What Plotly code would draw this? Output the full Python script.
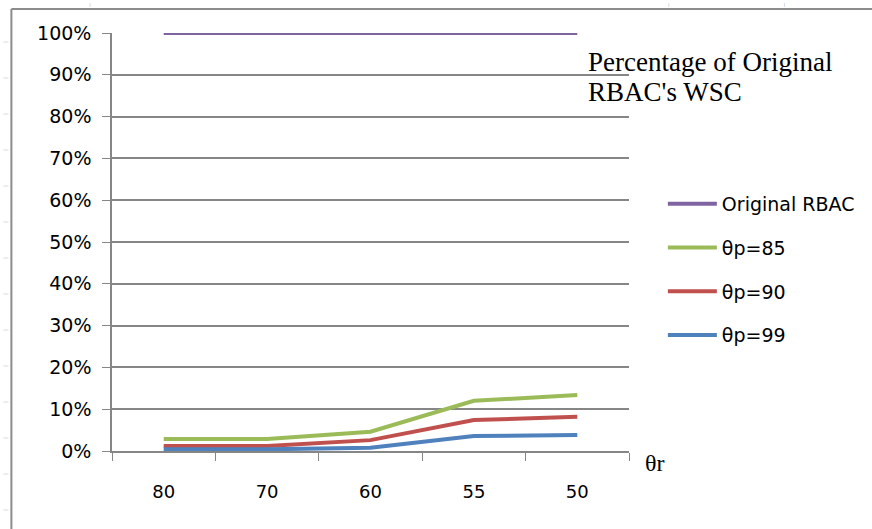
import plotly.graph_objects as go

categories = ["80", "70", "60", "55", "50"]
original_rbac = [1.0, 1.0, 1.0, 1.0, 1.0]
theta_p85 = [0.029, 0.029, 0.046, 0.120, 0.134]
theta_p90 = [0.012, 0.012, 0.026, 0.074, 0.082]
theta_p99 = [0.004, 0.004, 0.008, 0.036, 0.038]
y_ticks = [0, 0.1, 0.2, 0.3, 0.4, 0.5, 0.6, 0.7, 0.8, 0.9, 1.0]

W, H = 872, 529
ML, MR, MT, MB = 112, 241, 33, 78
PW, PH = W - ML - MR, H - MT - MB

def px(x):
    return (x - ML) / PW

def py(y):
    return 1 - (y - MT) / PH

fig = go.Figure()
series = [
    ("Original RBAC", original_rbac, "#8064A2"),
    ("θp=85", theta_p85, "#9BBB59"),
    ("θp=90", theta_p90, "#C0504D"),
    ("θp=99", theta_p99, "#4F81BD"),
]
for i, (name, vals, col) in enumerate(series):
    fig.add_trace(go.Scatter(
        x=categories, y=vals, name=name, mode="lines",
        line=dict(color=col, width=4), legendgroup=f"g{i}",
    ))

fig.update_layout(
    width=W, height=H,
    margin=dict(l=ML, r=MR, t=MT, b=MB, pad=0),
    paper_bgcolor="white", plot_bgcolor="white",
    showlegend=True,
    legend=dict(
        x=px(665), y=py(185), xanchor="left", yanchor="top",
        font=dict(family="DejaVu Sans", size=19, color="#000000"),
        tracegroupgap=16, traceorder="grouped", itemwidth=49,
        bgcolor="rgba(0,0,0,0)",
    ),
    xaxis=dict(
        type="category", range=[-0.5, 4.5],
        showgrid=False, showline=True, linecolor="#868686", linewidth=1.5,
        ticks="outside", tickson="boundaries", ticklen=8, tickcolor="#868686",
        tickfont=dict(family="DejaVu Sans", size=18, color="#000000"),
        zeroline=False, ticklabelstandoff=24,
    ),
    yaxis=dict(
        range=[0, 1.0], tickvals=y_ticks, tickformat=".0%",
        showgrid=True, gridcolor="#868686", gridwidth=1.5,
        showline=True, linecolor="#868686", linewidth=1.5,
        ticks="outside", ticklen=8, tickcolor="#868686",
        tickfont=dict(family="DejaVu Sans", size=19, color="#000000"),
        zeroline=False, ticklabelstandoff=7,
    ),
)

# Title text inside the chart (two lines)
title_lines = ["Percentage of Original", "RBAC's WSC"]
for line_text, yc in zip(title_lines, [62, 92]):
    fig.add_annotation(
        x=px(588), y=py(yc), xref="paper", yref="paper",
        xanchor="left", yanchor="middle", align="left", showarrow=False,
        text=line_text,
        font=dict(family="Liberation Serif", size=27, color="#000000"),
    )
# X axis title
fig.add_annotation(
    x=px(645), y=py(463), xref="paper", yref="paper",
    xanchor="left", yanchor="middle", showarrow=False,
    text="θr", font=dict(family="Liberation Serif", size=24, color="#000000"),
)

# Chart frame (left and top border)
fig.add_shape(type="line", xref="paper", yref="paper",
              x0=px(11), x1=px(11), y0=py(9), y1=py(H + 5),
              line=dict(color="#8c8c8c", width=2))
fig.add_shape(type="line", xref="paper", yref="paper",
              x0=px(11), x1=px(W + 5), y0=py(9), y1=py(9),
              line=dict(color="#8c8c8c", width=2))
# Faint spreadsheet row marks at the left edge
for yy in [42, 78, 114, 150, 186, 222, 258, 294, 330, 366, 402, 438, 474, 510]:
    fig.add_shape(type="line", xref="paper", yref="paper",
                  x0=px(3), x1=px(8), y0=py(yy), y1=py(yy),
                  line=dict(color="#d6dbe3", width=1))
for xx in [90, 671, 787]:
    fig.add_shape(type="line", xref="paper", yref="paper",
                  x0=px(xx), x1=px(xx), y0=py(3), y1=py(7),
                  line=dict(color="#d6dbe3", width=1))

fig.write_html("out.html", config={"displayModeBar": False},
               post_script="document.body.style.margin='0';")
